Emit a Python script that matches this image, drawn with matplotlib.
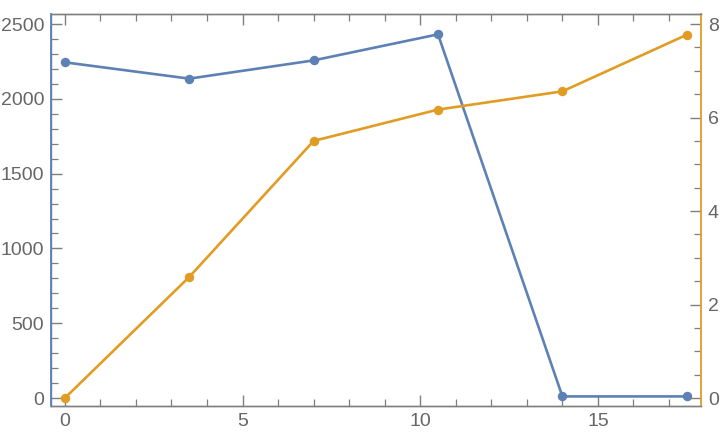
import matplotlib
matplotlib.use("Agg")
import matplotlib.pyplot as plt
from matplotlib.ticker import MultipleLocator

x = [0, 3.5, 7, 10.5, 14, 17.5]
blue_vals = [2244, 2135, 2257, 2431, 11, 11]
orange_vals = [0.0, 2.59, 5.50, 6.17, 6.56, 7.77]

BLUE = "#5E81B5"
ORANGE = "#E19C24"
GRAY = "#666666"
SPINE = "#7f7f7f"

plt.rcParams['font.family'] = ['Liberation Sans', 'DejaVu Sans']

fig = plt.figure(figsize=(7.2, 4.4), dpi=100)
ax = fig.add_axes([51/720, 34/440, 650/720, 392/440])
ax2 = ax.twinx()

ax.plot(x, blue_vals, color=BLUE, lw=1.9, marker='o', ms=5.8, zorder=3)
ax2.plot(x, orange_vals, color=ORANGE, lw=1.9, marker='o', ms=5.8, zorder=3)

ax.set_xlim(-0.39, 17.9)
ylo, yhi = -53, 2567
ax.set_ylim(ylo, yhi)
ax2.set_ylim(ylo/312.5, yhi/312.5)

ax.xaxis.set_major_locator(MultipleLocator(5))
ax.xaxis.set_minor_locator(MultipleLocator(1))
ax.yaxis.set_major_locator(MultipleLocator(500))
ax.yaxis.set_minor_locator(MultipleLocator(100))
ax2.yaxis.set_major_locator(MultipleLocator(2))
ax2.yaxis.set_minor_locator(MultipleLocator(0.5))

for a in (ax, ax2):
    for s in a.spines.values():
        s.set_color(SPINE)
        s.set_linewidth(1.0)
ax.spines['left'].set_color(BLUE)
ax2.spines['left'].set_color(BLUE)
ax2.spines['right'].set_color(ORANGE)
ax.spines['right'].set_visible(False)
ax.spines['left'].set_linewidth(1.3)
ax2.spines['right'].set_linewidth(1.3)

ax.tick_params(axis='x', which='both', direction='in', top=True, bottom=True,
               color=SPINE, labelcolor=GRAY, labelsize=14, pad=5)
ax.tick_params(axis='x', which='major', length=8, width=1.0)
ax.tick_params(axis='x', which='minor', length=5, width=0.9)
ax.tick_params(axis='y', which='both', direction='in', left=True, right=False,
               color=SPINE, labelcolor=GRAY, labelsize=14, pad=5)
ax.tick_params(axis='y', which='major', length=8, width=1.0)
ax.tick_params(axis='y', which='minor', length=5, width=0.9)
ax2.tick_params(axis='y', which='both', direction='in', right=True, left=False,
                color=SPINE, labelcolor=GRAY, labelsize=14, pad=5)
ax2.tick_params(axis='y', which='major', length=8, width=1.0)
ax2.tick_params(axis='y', which='minor', length=5, width=0.9)

fig.savefig("out.png", dpi=100)
